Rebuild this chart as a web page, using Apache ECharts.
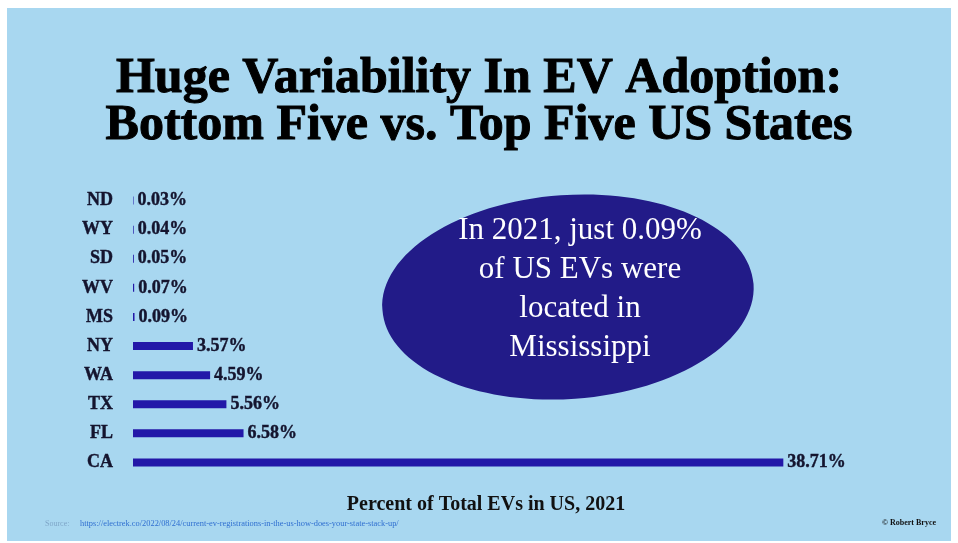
<!DOCTYPE html>
<html>
<head>
<meta charset="utf-8">
<script src="https://cdn.jsdelivr.net/npm/echarts@6/dist/echarts.min.js"></script>
<style>
  html, body { margin: 0; padding: 0; background: #fff; }
  #main { width: 958px; height: 543px; }
</style>
</head>
<body>
<div id="main"></div>
<script>
// 数据
var states = ['ND', 'WY', 'SD', 'WV', 'MS', 'NY', 'WA', 'TX', 'FL', 'CA'];
var shares = [0.03, 0.04, 0.05, 0.07, 0.09, 3.57, 4.59, 5.56, 6.58, 38.71];
var axisTitle = 'Percent of Total EVs in US, 2021';
var calloutLines = ['In 2021, just 0.09%', 'of US EVs were', 'located in', 'Mississippi'];

var serif = '"Liberation Serif", "Times New Roman", serif';
var myChart = echarts.init(document.getElementById('main'));

var option = {
    backgroundColor: '#ffffff',
    animation: false,
    title: {
        text: 'Huge Variability In EV Adoption:\nBottom Five vs. Top Five US States',
        left: 'center',
        top: 51,
        textStyle: {
            fontFamily: serif,
            fontWeight: 'bold',
            fontSize: 50,
            lineHeight: 47,
            color: '#000',
            textBorderColor: '#000',
            textBorderWidth: 1
        }
    },
    grid: {
        left: 133,
        top: 186,
        width: 672,
        height: 291
    },
    xAxis: {
        type: 'value',
        min: 0,
        max: 40,
        show: false
    },
    yAxis: {
        type: 'category',
        data: states,
        inverse: true,
        axisLine: { show: false },
        axisTick: { show: false },
        axisLabel: {
            margin: 20,
            fontFamily: serif,
            fontWeight: 'bold',
            fontSize: 18,
            color: '#14142e',
            textBorderColor: '#14142e',
            textBorderWidth: 0.4
        }
    },
    series: [{
        type: 'bar',
        data: shares,
        barWidth: 8,
        itemStyle: { color: '#2318a8' },
        label: {
            show: true,
            position: 'right',
            distance: 4,
            formatter: function (p) { return p.value.toFixed(2) + '%'; },
            fontFamily: serif,
            fontWeight: 'bold',
            fontSize: 18,
            color: '#14142e',
            textBorderColor: '#14142e',
            textBorderWidth: 0.4
        }
    }],
    graphic: [
        { // 浅蓝底
            type: 'rect', z: -10,
            shape: { x: 7, y: 8, width: 944, height: 533 },
            style: { fill: '#a8d7f0' }
        },
        {
            type: 'ellipse', z: 5,
            x: 568, y: 297,
            rotation: 0.07,
            shape: { cx: 0, cy: 0, rx: 186, ry: 102 },
            style: { fill: '#221b88' }
        },
        {
            type: 'text', z: 6,
            x: 580, y: 289,
            style: {
                text: calloutLines.join('\n'),
                fill: '#ffffff',
                font: '31px ' + serif,
                lineHeight: 39,
                align: 'center',
                verticalAlign: 'middle'
            }
        },
        {
            type: 'text', z: 6,
            x: 486, y: 505,
            style: {
                text: axisTitle,
                fill: '#111',
                font: 'bold 20px ' + serif,
                align: 'center',
                verticalAlign: 'middle'
            }
        },
        {
            type: 'text', z: 6,
            x: 45, y: 524,
            style: {
                text: 'Source:',
                fill: '#7fa6c8',
                font: '8px ' + serif,
                verticalAlign: 'middle'
            }
        },
        {
            type: 'text', z: 6,
            x: 80, y: 524,
            style: {
                text: 'https://electrek.co/2022/08/24/current-ev-registrations-in-the-us-how-does-your-state-stack-up/',
                fill: '#2f6fd0',
                font: '8.4px ' + serif,
                verticalAlign: 'middle'
            }
        },
        {
            type: 'text', z: 6,
            x: 936, y: 523,
            style: {
                text: '© Robert Bryce',
                fill: '#111',
                font: 'bold 8px ' + serif,
                align: 'right',
                verticalAlign: 'middle'
            }
        }
    ]
};

myChart.setOption(option);
</script>
</body>
</html>
